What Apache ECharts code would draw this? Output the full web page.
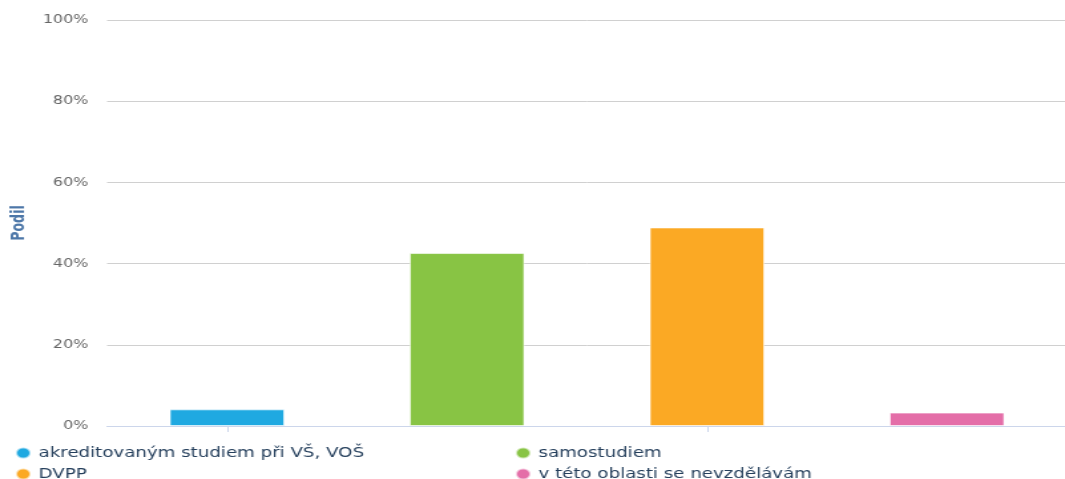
<!DOCTYPE html>
<html>
<head>
<meta charset="utf-8">
<script src="https://cdn.jsdelivr.net/npm/echarts@6/dist/echarts.min.js"></script>
<style>
  html, body { margin: 0; padding: 0; background: #fff; overflow: hidden; }
  /* the reference picture is stretched sideways, so draw narrow and widen it */
  #chart { width: 801px; height: 479px; transform: scaleX(1.3296); transform-origin: 0 0; }
</style>
</head>
<body>
<div id="chart"></div>
<script>
  // categories / values
  const categories = ['akreditovaným studiem při VŠ, VOŠ', 'samostudiem', 'DVPP', 'v této oblasti se nevzdělávám'];
  const values = [4.1, 42.6, 48.9, 3.3];
  const colors = ['#1fa9e1', '#88c444', '#fba924', '#e46ea8'];
  const yTicks = [0, 20, 40, 60, 80, 100];

  const chart = echarts.init(document.getElementById('chart'));

  // one series per category so each gets its own legend entry
  const series = categories.map((name, i) => ({
    name: name,
    type: 'bar',
    barWidth: 86.5,
    barGap: '-100%',
    itemStyle: {
      color: colors[i],
      borderColor: 'rgba(255,255,255,0.6)',
      borderWidth: 1
    },
    data: categories.map((c, j) => (j === i ? values[j] : '-'))
  }));

  // legend laid out in two columns, two rows
  const legendPos = [[11, 446], [387, 446], [11, 467], [387, 467]];
  const legends = categories.map((name, i) => ({
    data: [name],
    left: legendPos[i][0],
    top: legendPos[i][1],
    padding: 0,
    icon: 'circle',
    itemWidth: 11,
    itemHeight: 11,
    textStyle: {
      color: '#253f5c',
      fontFamily: 'DejaVu Sans',
      fontSize: 13.7,
      padding: [0, 0, 0, 1]
    }
  }));

  chart.setOption({
    animation: false,
    grid: { left: 80.5, right: -1.5, top: 20, bottom: 53, outerBoundsMode: 'none' },
    legend: legends,
    xAxis: {
      type: 'category',
      data: categories,
      axisLine: { lineStyle: { color: '#ccd6eb' } },
      axisTick: { show: true, alignWithLabel: true, length: 6, lineStyle: { color: '#ccd6eb' } },
      axisLabel: { show: false }
    },
    yAxis: {
      type: 'value',
      min: yTicks[0],
      max: yTicks[yTicks.length - 1],
      interval: 20,
      name: 'Podil',
      nameLocation: 'middle',
      nameGap: 58,
      nameRotate: 90,
      nameTextStyle: {
        color: '#4d77a8',
        fontFamily: 'DejaVu Sans Condensed',
        fontWeight: 'bold',
        fontSize: 14
      },
      axisLabel: {
        formatter: '{value}%',
        color: '#666',
        fontFamily: 'DejaVu Sans',
        fontSize: 12,
        margin: 14
      },
      splitLine: { lineStyle: { color: '#d0d0d0' } }
    },
    series: series
  });
</script>
</body>
</html>
